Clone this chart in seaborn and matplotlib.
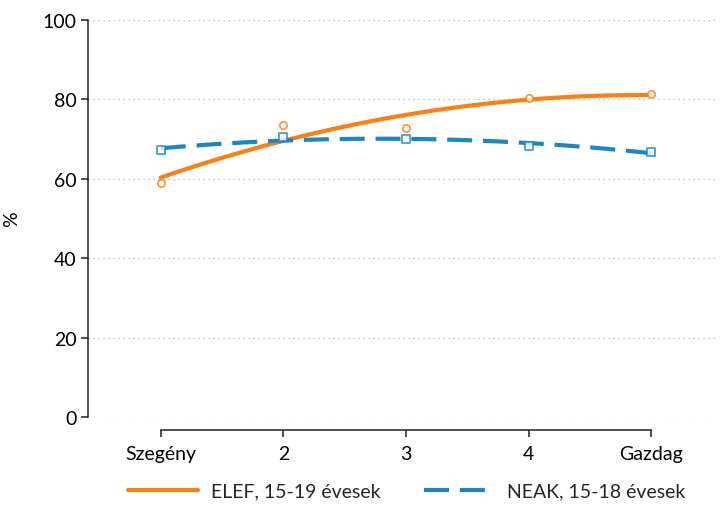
import matplotlib
matplotlib.use('Agg')
import matplotlib.pyplot as plt
import pandas as pd
import seaborn as sns

# Adatok: jövedelmi ötödök szerinti arányok (%)
kvintilis = [1, 2, 3, 4, 5]
kvintilis_cimkek = ['Szegény', '2', '3', '4', 'Gazdag']
elef_ertekek = [58.9, 73.5, 72.8, 80.4, 81.4]
neak_ertekek = [67.3, 70.4, 70.0, 68.3, 66.8]
y_tickek = [0, 20, 40, 60, 80, 100]

narancs = '#fd7f12'
kek = '#1a87c1'

df_elef = pd.DataFrame({'kvintilis': kvintilis, 'arany': elef_ertekek})
df_neak = pd.DataFrame({'kvintilis': kvintilis, 'arany': neak_ertekek})

sns.set_style('white')
plt.rcParams['font.family'] = ['Lato', 'DejaVu Sans']

fig = plt.figure(figsize=(7.2, 5.06), dpi=100)
ax = fig.add_axes([0.122, 0.174, 0.873, 0.7845])

# Gridvonalak
for t in y_tickek:
    ax.axhline(t, color='#b0b0b0', lw=0.9, ls=(0, (1, 3)), zorder=0)

# Másodfokú illesztés + pontok
sns.regplot(data=df_elef, x='kvintilis', y='arany', order=2, ci=None, ax=ax,
            marker='o', color=narancs,
            scatter_kws={'s': 28, 'facecolors': 'white', 'edgecolors': narancs,
                         'linewidths': 1.3, 'zorder': 3},
            line_kws={'lw': 3, 'label': 'ELEF, 15-19 évesek', 'zorder': 2})
sns.regplot(data=df_neak, x='kvintilis', y='arany', order=2, ci=None, ax=ax,
            marker='s', color=kek,
            scatter_kws={'s': 26, 'facecolors': 'white', 'edgecolors': kek,
                         'linewidths': 1.3, 'zorder': 3},
            line_kws={'lw': 3, 'ls': (0, (6, 2.6)), 'label': 'NEAK, 15-18 évesek',
                      'zorder': 2})

ax.set_xlim(0.405, 5.53)
ax.set_ylim(0, 100)
ax.set_xticks(kvintilis)
ax.set_xticklabels(kvintilis_cimkek)
ax.set_yticks(y_tickek)
ax.set_xlabel('')
ax.set_ylabel('%', fontsize=14, color='black')
ax.yaxis.set_label_coords(-0.108, 0.5)

# Tengelyek Stata-szerűen
ax.spines['top'].set_visible(False)
ax.spines['right'].set_visible(False)
ax.spines['bottom'].set_position(('outward', 9.4))
ax.spines['bottom'].set_bounds(1, 5)
for s in ['left', 'bottom']:
    ax.spines[s].set_color('#222222')
    ax.spines[s].set_linewidth(1.1)
ax.tick_params(axis='both', which='major', direction='out', length=5, width=1.1,
               color='#222222', labelsize=14, labelcolor='black',
               bottom=True, left=True)
ax.tick_params(axis='x', pad=6)
ax.tick_params(axis='y', pad=3)

kezek, cimkek = ax.get_legend_handles_labels()
fig.legend(kezek, cimkek, loc='center', bbox_to_anchor=(0.565, 0.028), ncol=2,
           frameon=False, fontsize=14, handlelength=3.6, columnspacing=2.2,
           handletextpad=0.7)

fig.savefig('out.png', dpi=100)
plt.close()
